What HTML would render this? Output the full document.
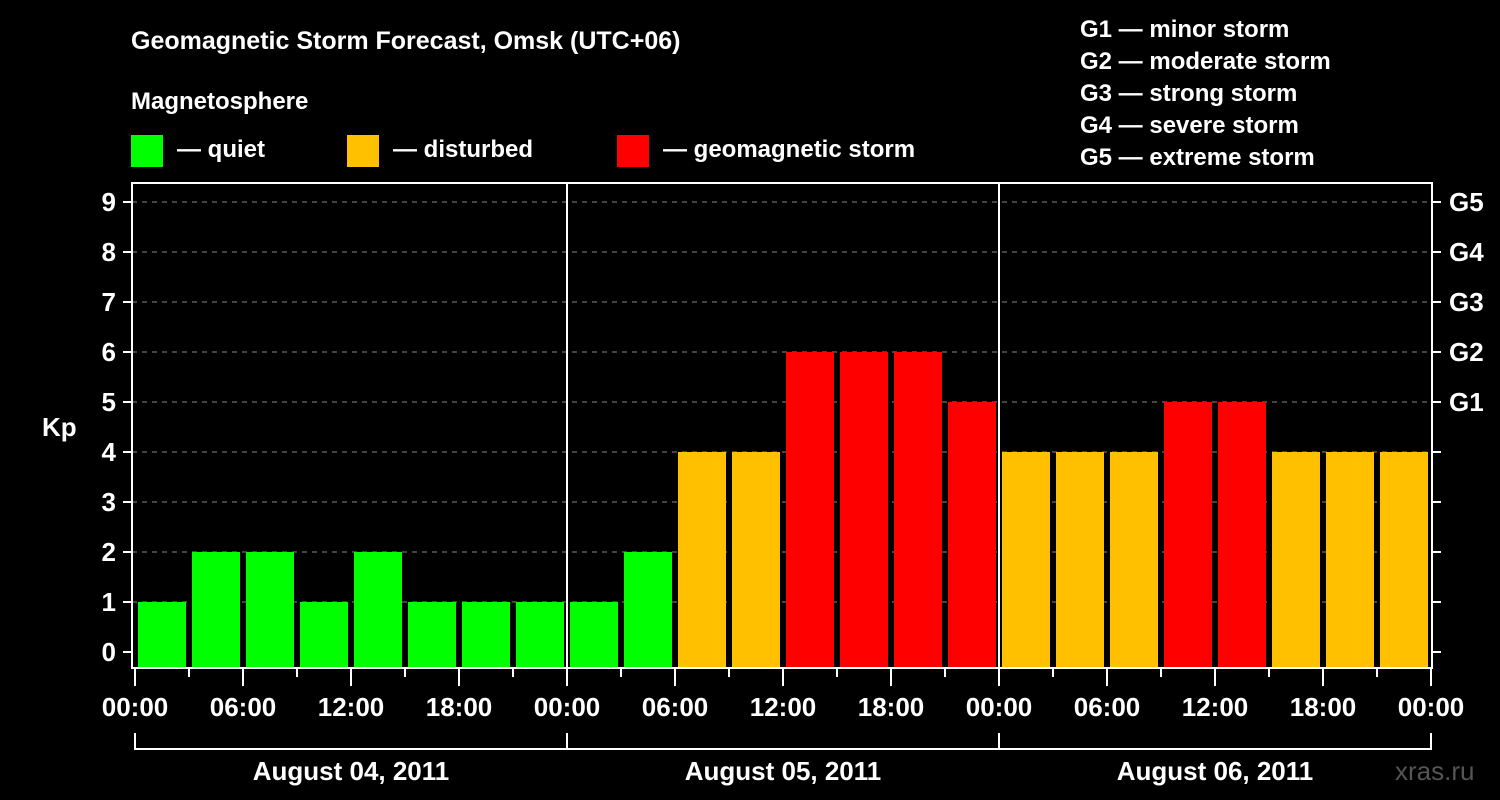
<!DOCTYPE html>
<html><head><meta charset="utf-8"><style>
html,body{margin:0;padding:0;background:#000;}
svg{display:block;font-family:"Liberation Sans",Arial,sans-serif;font-weight:bold;}
</style></head><body>
<svg id="chart" width="1500" height="800" viewBox="0 0 1500 800">
<text x="131" y="49" fill="#fff" font-size="25">Geomagnetic Storm Forecast, Omsk (UTC+06)</text>
<text x="131" y="109" fill="#fff" font-size="24">Magnetosphere</text>
<g>
<rect x="131" y="135" width="32" height="32" fill="#00ff00"/>
<text x="177" y="157" fill="#fff" font-size="24">— quiet</text>
<rect x="347" y="135" width="32" height="32" fill="#ffc000"/>
<text x="393" y="157" fill="#fff" font-size="24">— disturbed</text>
<rect x="617" y="135" width="32" height="32" fill="#ff0000"/>
<text x="663" y="157" fill="#fff" font-size="24">— geomagnetic storm</text>
</g>
<g fill="#fff" font-size="24">
<text x="1080" y="37">G1 — minor storm</text>
<text x="1080" y="69">G2 — moderate storm</text>
<text x="1080" y="101">G3 — strong storm</text>
<text x="1080" y="133">G4 — severe storm</text>
<text x="1080" y="165">G5 — extreme storm</text>
</g>
<text x="42" y="436" fill="#fff" font-size="26">Kp</text>
<text x="1395" y="780" fill="#555" font-size="26" font-weight="normal">xras.ru</text>
<g id="grid"></g><g id="bars"></g><g id="axes"></g>
</svg>
<script>
const kpValues = [1,2,2,1,2,1,1,1, 1,2,4,4,6,6,6,5, 4,4,4,5,5,4,4,4];
const dayLabels = ["August 04, 2011","August 05, 2011","August 06, 2011"];
const hourLabels = ["00:00","06:00","12:00","18:00"];
const yTicks = [0,1,2,3,4,5,6,7,8,9];
const gLabels = ["G1","G2","G3","G4","G5"];
const gLevels = [5,6,7,8,9];

const NS="http://www.w3.org/2000/svg";
const X0=135, SLOT=54, Y0=652, UNIT=50, LEFT=132, RIGHT=1432, TOP=183, BOT=668;
const xs = i => X0 + i*SLOT;
const ys = v => Y0 - v*UNIT;
function mk(tag, attrs, parent){const e=document.createElementNS(NS,tag);for(const k in attrs)e.setAttribute(k,attrs[k]);document.getElementById(parent).appendChild(e);return e;}
function color(v){return v>=5?"#ff0000":(v>=4?"#ffc000":"#00ff00");}

yTicks.forEach(t=>{
  if(t>0){const g=mk("line",{x1:LEFT,x2:RIGHT,y1:ys(t),y2:ys(t),stroke:"#888","stroke-width":1,"stroke-dasharray":"5,5"},"grid");
  
  }
  const tk=mk("line",{x1:LEFT-9,x2:LEFT,y1:ys(t),y2:ys(t),stroke:"#fff","stroke-width":2},"axes");
  
  
  const tr=mk("line",{x1:RIGHT,x2:RIGHT+9,y1:ys(t),y2:ys(t),stroke:"#fff","stroke-width":2},"axes");
  
  
  const tx=mk("text",{x:LEFT-16,y:ys(t)+9,fill:"#fff","font-size":26,"text-anchor":"end"},"axes");
  tx.textContent=t;
  
  
});
gLabels.forEach((g,i)=>{
  const tx=mk("text",{x:RIGHT+17,y:ys(gLevels[i])+9,fill:"#fff","font-size":26},"axes");
  tx.textContent=g;
  
  
});
kpValues.forEach((v,i)=>{
  const r=mk("rect",{x:xs(i)+3,y:ys(v),width:SLOT-6,height:BOT-1-ys(v),fill:color(v)},"bars");
  
  
});
// frame
const fr=mk("rect",{x:LEFT,y:TOP,width:RIGHT-LEFT,height:BOT-TOP,fill:"none",stroke:"#fff","stroke-width":2},"axes");


for(let d=1;d<dayLabels.length;d++){
  const l=mk("line",{x1:xs(d*8),x2:xs(d*8),y1:TOP,y2:BOT,stroke:"#fff","stroke-width":2},"axes");
  
  
}
for(let i=0;i<=kpValues.length;i++){
  const major=i%2===0;
  const t=mk("line",{x1:xs(i),x2:xs(i),y1:BOT,y2:BOT+(major?18:9),stroke:"#fff","stroke-width":2},"axes");
  
  
  if(major){
    const tx=mk("text",{x:xs(i),y:716,fill:"#fff","font-size":26,"text-anchor":"middle"},"axes");
    tx.textContent=hourLabels[(i/2)%4];
    
    
  }
}
dayLabels.forEach((d,k)=>{
  const a=xs(k*8), b=xs((k+1)*8);
  const p=mk("path",{d:`M${a} 733 V749 H${b} V733`,stroke:"#fff","stroke-width":2,fill:"none"},"axes");
  
  
  const tx=mk("text",{x:(a+b)/2,y:780,fill:"#fff","font-size":26,"text-anchor":"middle"},"axes");
  tx.textContent=d;
  
  
});
</script>
</body></html>
